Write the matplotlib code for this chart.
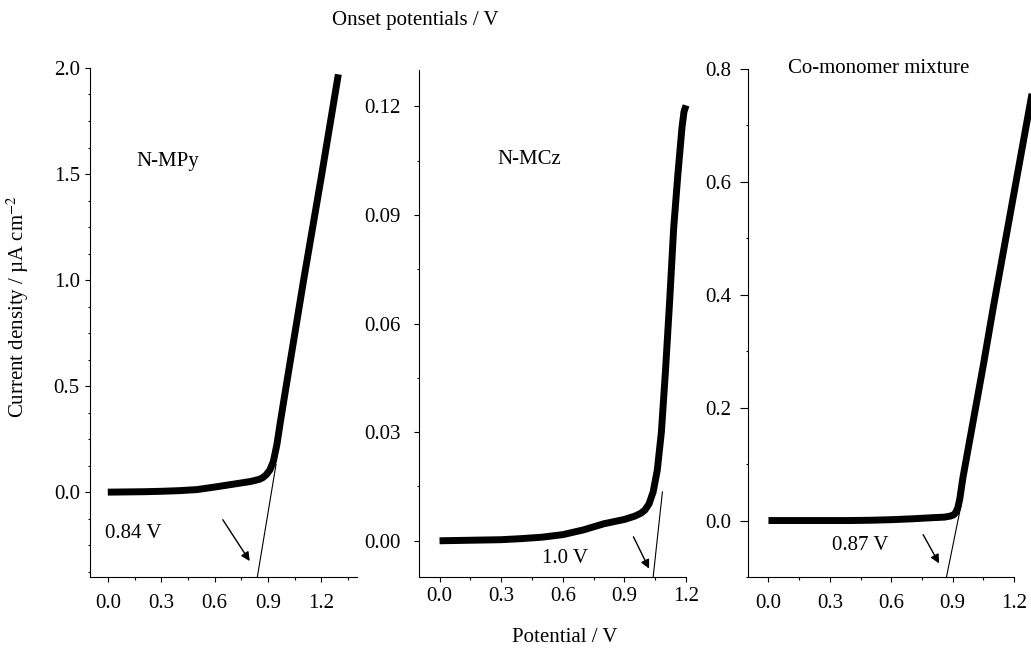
import matplotlib
matplotlib.use("Agg")
import matplotlib.pyplot as plt
from matplotlib.ticker import MultipleLocator, FormatStrFormatter

plt.rcParams['font.family'] = ['Liberation Serif', 'DejaVu Serif']
plt.rcParams['mathtext.fontset'] = 'stix'
plt.rcParams['font.size'] = 15

# N-MPy polarisation curve
mpy_v = [0.0, 0.1, 0.2, 0.3, 0.4, 0.5, 0.6, 0.7, 0.8, 0.85, 0.87, 0.89, 0.91, 0.93,
         0.95, 0.97, 1.0, 1.05, 1.1, 1.2, 1.295]
mpy_j = [0.0, 0.001, 0.002, 0.004, 0.007, 0.012, 0.024, 0.037, 0.05, 0.06, 0.068,
         0.082, 0.104, 0.145, 0.225, 0.335, 0.49, 0.745, 1.0, 1.49, 1.97]

# N-MCz polarisation curve
mcz_v = [0.0, 0.1, 0.2, 0.3, 0.4, 0.5, 0.6, 0.7, 0.8, 0.9, 0.95, 0.98, 1.0, 1.02,
         1.04, 1.06, 1.08, 1.1, 1.12, 1.14, 1.16, 1.18, 1.19, 1.2]
mcz_j = [0.0, 0.0001, 0.0002, 0.0003, 0.0006, 0.001, 0.0017, 0.003, 0.0047, 0.0059,
         0.0068, 0.0076, 0.0085, 0.0102, 0.0135, 0.0195, 0.03, 0.047, 0.066, 0.0865,
         0.101, 0.114, 0.1185, 0.1203]

# co-monomer mixture polarisation curve
mix_v = [0.0, 0.1, 0.2, 0.3, 0.4, 0.5, 0.6, 0.7, 0.8, 0.86, 0.89, 0.905, 0.915, 0.925,
         0.935, 0.95, 1.0, 1.05, 1.1, 1.15, 1.2, 1.25, 1.3]
mix_j = [0.0, 0.0, 0.0, 0.0, 0.0, 0.0005, 0.0015, 0.003, 0.005, 0.006, 0.008, 0.01,
         0.014, 0.022, 0.038, 0.075, 0.175, 0.275, 0.38, 0.48, 0.58, 0.68, 0.78]

names = ['N-MPy', 'N-MCz', 'Co-monomer mixture']
onset = [0.84, 1.04, 0.87]
onset_text = ['0.84 V', '1.0 V', '0.87 V']
# upper end of each tangent line (x, y)
tangent_end = [(0.945, 0.131), (1.085, 0.0135), (0.94, 0.025)]

xlims = [(-0.1, 1.4), (-0.1, 1.2), (-0.1, 1.2)]
ylims = [(-0.4, 2.0), (-0.01, 0.13), (-0.1, 0.8)]
ymajor = [0.5, 0.03, 0.2]
yminor = [0.125, 0.015, 0.1]
yfmt = ['%.1f', '%.2f', '%.1f']

# axes rectangles [left, bottom, width, height] in figure fractions
rects = [[0.0873, 0.1096, 0.259, 0.7855],
         [0.4064, 0.1096, 0.259, 0.782],
         [0.7255, 0.1096, 0.258, 0.784]]

fig = plt.figure(figsize=(10.31, 6.48), dpi=100)

curves = [(mpy_v, mpy_j), (mcz_v, mcz_j), (mix_v, mix_j)]
axes = []
for i, r in enumerate(rects):
    ax = fig.add_axes(r)
    axes.append(ax)
    v, j = curves[i]
    ax.plot(v, j, color='black', lw=5, solid_capstyle='butt',
            solid_joinstyle='round', clip_on=False)
    ax.set_xlim(*xlims[i])
    ax.set_ylim(*ylims[i])
    for s in ['top', 'right']:
        ax.spines[s].set_visible(False)
    ax.xaxis.set_major_locator(MultipleLocator(0.3))
    ax.xaxis.set_minor_locator(MultipleLocator(0.15))
    ax.xaxis.set_major_formatter(FormatStrFormatter('%.1f'))
    ax.yaxis.set_major_locator(MultipleLocator(ymajor[i]))
    ax.yaxis.set_minor_locator(MultipleLocator(yminor[i]))
    ax.yaxis.set_major_formatter(FormatStrFormatter(yfmt[i]))
    ax.tick_params(which='major', length=3.3, width=0.8)
    ax.tick_params(which='minor', length=1.8, width=0.8)

    # tangent line down to the onset potential
    y0 = ylims[i][0]
    ax.plot([onset[i], tangent_end[i][0]], [y0, tangent_end[i][1]],
            color='black', lw=0.8, clip_on=False)

axes[0].tick_params(axis='y', which='major', pad=4)
axes[1].tick_params(axis='y', which='major', pad=10)
axes[2].tick_params(axis='y', which='major', length=5.5, pad=6.5)
axes[0].tick_params(axis='x', which='major', pad=9)
axes[1].tick_params(axis='x', which='major', pad=4)
axes[2].tick_params(axis='x', which='major', pad=9)

# sample names
axes[0].text(0.163, 1.558, names[0], ha='left', va='center')
axes[1].text(0.28, 0.1054, names[1], ha='left', va='center')
axes[2].text(0.537, 0.8, names[2], ha='center', va='center')

# onset labels and arrows
axes[0].text(-0.017, -0.193, onset_text[0], ha='left', va='center')
axes[1].text(0.61, -0.005, onset_text[1], ha='center', va='center')
axes[2].text(0.451, -0.044, onset_text[2], ha='center', va='center')

arrows = [((0.646, -0.13), (0.797, -0.325)),
          ((0.944, 0.0011), (1.02, -0.0077)),
          ((0.756, -0.025), (0.834, -0.076))]
for ax, (start, end) in zip(axes, arrows):
    ax.annotate('', xy=end, xytext=start,
                arrowprops=dict(arrowstyle='-|>', color='black', lw=1.0,
                                mutation_scale=13, shrinkA=0, shrinkB=0))

fig.text(415 / 1031, 1 - 20 / 648, 'Onset potentials / V', ha='center', va='center')
fig.text(565 / 1031, 1 - 638 / 648, 'Potential / V', ha='center', va='center')
fig.text(18 / 1031, 1 - 307 / 648, r'Current density / µA cm$^{-2}$',
         ha='center', va='center', rotation=90)

fig.savefig('out.png', dpi=100)
